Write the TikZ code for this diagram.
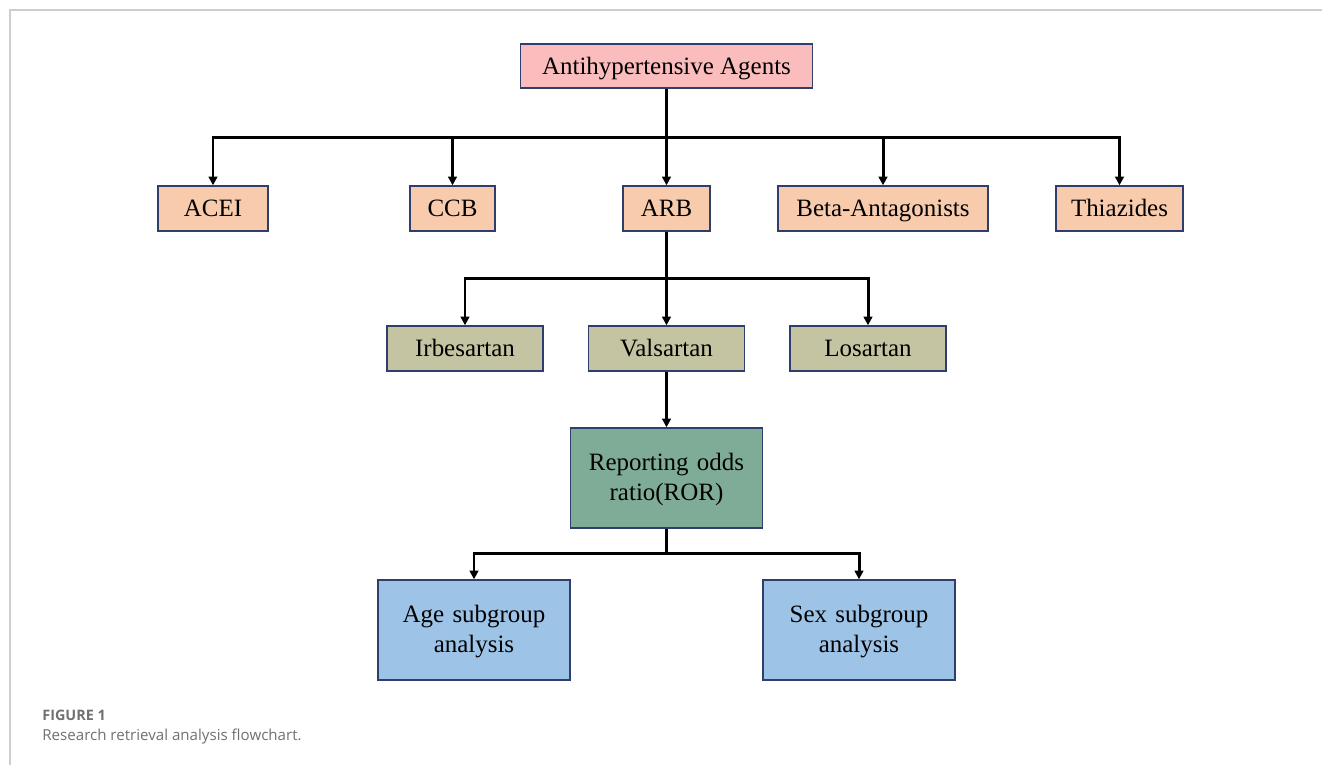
\documentclass[tikz,border=0pt]{standalone}
\usepackage{fontspec}
\setmainfont{Liberation Serif}
\newfontfamily\capfont{Open Sans}
\usetikzlibrary{arrows.meta}
\definecolor{agentpink}{RGB}{250,188,188}
\definecolor{classorange}{RGB}{248,203,173}
\definecolor{drugolive}{RGB}{197,196,162}
\definecolor{rorgreen}{RGB}{127,172,150}
\definecolor{subblue}{RGB}{157,195,230}
\definecolor{boxline}{RGB}{47,62,108}
\definecolor{capgray}{RGB}{112,112,112}
\definecolor{framegray}{RGB}{205,205,205}
\tikzset{
  box/.style={draw=boxline, line width=0.8pt, inner sep=0pt, align=center,
    minimum height=0.9cm, text height=0.96em, text depth=0em,
    font=\fontsize{14.2}{17}\selectfont},
  bigbox/.style={draw=boxline, line width=0.8pt, inner sep=0pt, align=center,
    minimum width=3.84cm, minimum height=2cm, text width=3.7cm,
    font=\fontsize{14.2}{17}\selectfont},
  link/.style={line width=1.7pt, black},
  arr/.style={link, -{Triangle[width=5pt,length=5pt]}}
}

\begin{document}
\begin{tikzpicture}[x=0.02cm, y=-0.02cm]
		%%%%% START %%%%%
		\useasboundingbox (0,0) rectangle (1322,765);
		\draw[framegray, line width=0.6pt] (10,765) -- (10,10) -- (1322,10);
		
		\node[box, fill=agentpink, minimum width=5.84cm, minimum height=0.88cm] (agents) at (666.5,66) {Antihypertensive Agents};
		
		\node[box, fill=classorange, minimum width=2.2cm] (acei) at (213,208.5) {ACEI};
		\node[box, fill=classorange, minimum width=1.7cm] (ccb) at (452.5,208.5) {CCB};
		\node[box, fill=classorange, minimum width=1.74cm] (arb) at (666.5,208.5) {ARB};
		\node[box, fill=classorange, minimum width=4.2cm] (beta) at (883,208.5) {Beta-Antagonists};
		\node[box, fill=classorange, minimum width=2.54cm] (thiaz) at (1119.5,208.5) {Thiazides};
		
		\node[box, fill=drugolive, minimum width=3.12cm] (irbe) at (465,348.5) {Irbesartan};
		\node[box, fill=drugolive, minimum width=3.12cm] (valsa) at (666.5,348.5) {Valsartan};
		\node[box, fill=drugolive, minimum width=3.12cm] (losa) at (868,348.5) {Losartan};
		
		\node[bigbox, fill=rorgreen] (ror) at (666.5,478) {\strut Reporting odds\\ratio(ROR)};
		
		\node[bigbox, fill=subblue] (age) at (474,630) {\strut Age subgroup\\analysis};
		\node[bigbox, fill=subblue] (sex) at (859,630) {\strut Sex subgroup\\analysis};
		
		% connectors
		\coordinate (bus1) at (666.5,137);
		\coordinate (bus2) at (666.5,278);
		\coordinate (bus3) at (666.5,553);
		
		\draw[link] (agents.south) -- (bus1);
		\foreach \n in {acei,ccb,arb,beta,thiaz}
			\draw[arr] (bus1) -| (\n.north);
		
		\draw[link] (arb.south) -- (bus2);
		\foreach \n in {irbe,valsa,losa}
			\draw[arr] (bus2) -| (\n.north);
		
		\draw[arr] (valsa.south) -- (ror.north);
		
		\draw[link] (ror.south) -- (bus3);
		\foreach \n in {age,sex}
			\draw[arr] (bus3) -| (\n.north);
		
		% caption
		\node[anchor=west, inner sep=0pt, text=capgray, font=\capfont\fontsize{8.2}{10}\selectfont] (figno) at (42,715) {\textbf{FIGURE 1}};
		\node[anchor=west, inner sep=0pt, text=capgray, font=\capfont\fontsize{8.6}{11}\selectfont] (figcap) at (42,737) {Research retrieval analysis flowchart.};
		%%%%% END %%%%%
\end{tikzpicture}
\end{document}
